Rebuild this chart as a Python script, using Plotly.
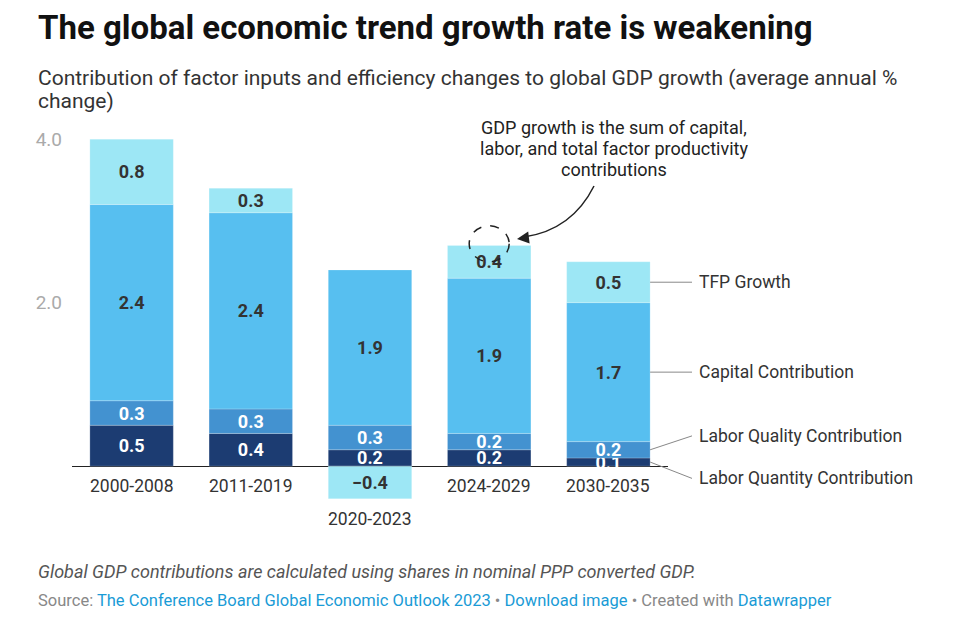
import plotly.graph_objects as go

# ---------------- data ----------------
categories = ["2000-2008", "2011-2019", "2020-2023", "2024-2029", "2030-2035"]
labor_quantity = [0.5, 0.4, 0.2, 0.2, 0.1]
labor_quality = [0.3, 0.3, 0.3, 0.2, 0.2]
capital = [2.4, 2.4, 1.9, 1.9, 1.7]
tfp = [0.8, 0.3, -0.4, 0.4, 0.5]
series_names = ["Labor Quantity Contribution", "Labor Quality Contribution",
                "Capital Contribution", "TFP Growth"]
y_tick_values = [2.0, 4.0]
y_tick_labels = ["2.0", "4.0"]

title = "The global economic trend growth rate is weakening"
subtitle_lines = ["Contribution of factor inputs and efficiency changes to global GDP growth (average annual %",
                  "change)"]
callout_lines = ["GDP growth is the sum of capital,", "labor, and total factor productivity",
                 "contributions"]
note = "Global GDP contributions are calculated using shares in nominal PPP converted GDP."

# ---------------- style ----------------
FONT = "Roboto"
colors = ["#1c3c72", "#4392d0", "#57bff0", "#9de7f5"]
label_colors = ["#ffffff", "#ffffff", "#333333", "#333333"]

PAGE_W, PAGE_H = 954, 627
OFF = 8                      # browser body margin
W, H = PAGE_W - OFF, PAGE_H - OFF
L, R, T, B = 72, 668, 131, 507  # plot area in page pixels
YMIN, YMAX = -0.5, 4.1


def px(xp):
    return (xp - L) / (R - L)


def py(yp):
    return (B - yp) / (B - T)


def ypaper(v):
    return (v - YMIN) / (YMAX - YMIN)


def xpaper(v):
    return (v + 0.5) / 5.0


def fmt(v):
    s = f"{abs(v):.1f}"
    return ("\u2212" + s) if v < 0 else s


series = [labor_quantity, labor_quality, capital, tfp]

fig = go.Figure()
for name, vals, col, tcol in zip(series_names, series, colors, label_colors):
    fig.add_trace(go.Bar(
        x=categories, y=vals, name=name,
        marker=dict(color=col, line=dict(width=0.6, color="rgba(255,255,255,0.35)")),
        text=[fmt(v) for v in vals],
        textposition="inside", insidetextanchor="middle", textangle=0,
        constraintext="none", cliponaxis=False,
        textfont=dict(family=FONT, size=18, color=tcol, weight=700),
        hoverinfo="skip",
    ))

annotations = []

# category labels below bars (below negative part when present)
for i, cat in enumerate(categories):
    neg = sum(min(0, s[i]) for s in series)
    annotations.append(dict(
        x=i, y=neg, xref="x", yref="y", text=cat, showarrow=False,
        yanchor="middle", yshift=-20, font=dict(family=FONT, size=17.5, color="#333333")))

# direct labels for series with leader lines at the last bar
last = len(categories) - 1
base = 0.0
mids = []
for s in series:
    v = s[last]
    mids.append(base + v / 2)
    base += v
label_y = [mids[0] - 0.2, mids[1] + 0.17, mids[2], mids[3]]
bar_edge = xpaper(last + 0.35)
line_end = px(692)
shapes = []
for name, m, ly in zip(series_names, mids, label_y):
    shapes.append(dict(type="line", xref="paper", yref="paper", x0=bar_edge, y0=ypaper(m),
                       x1=line_end, y1=ypaper(ly), line=dict(color="#888888", width=1)))
    annotations.append(dict(
        x=px(697), y=ypaper(ly), xref="paper", yref="paper", text=name, showarrow=False,
        xanchor="left", yanchor="middle", font=dict(family=FONT, size=17.5, color="#333333")))

# dashed circle around total of 2024-2029
ci = 3
total = sum(max(0, s[ci]) for s in series)
rx = 20 / ((R - L) / 5.0)
ry = 18 / ((B - T) / (YMAX - YMIN))
cy = total + 0.02
shapes.append(dict(type="circle", xref="x", yref="y", x0=ci - rx, x1=ci + rx,
                   y0=cy - ry, y1=cy + ry, line=dict(color="#222222", width=1.5, dash="dash")))

# curved arrow from callout
x0, y0 = 594, 186
cx, cyy = 572, 230
x1, y1 = 524, 237
shapes.append(dict(type="path", xref="paper", yref="paper",
                   path=f"M {px(x0)},{py(y0)} Q {px(cx)},{py(cyy)} {px(x1)},{py(y1)}",
                   line=dict(color="#222222", width=1.5)))
annotations.append(dict(x=px(517), y=py(239), xref="paper", yref="paper", text="",
                        showarrow=True, arrowhead=2, arrowsize=1.6, arrowwidth=1.5,
                        arrowcolor="#222222", ax=12, ay=-1.5))
for k, line in enumerate(callout_lines):
    annotations.append(dict(x=px(614), y=py(128 + 20.5 * k), xref="paper", yref="paper", text=line,
                            showarrow=False, xanchor="center", yanchor="middle",
                            font=dict(family=FONT, size=18, color="#222222")))

# title / subtitle / footer
annotations.append(dict(x=px(36), y=py(28), xref="paper", yref="paper", text=title,
                        showarrow=False, xanchor="left", yanchor="middle",
                        font=dict(family=FONT, size=33, color="#111111", weight=700)))
for k, line in enumerate(subtitle_lines):
    annotations.append(dict(x=px(36), y=py(78 + 23 * k), xref="paper", yref="paper", text=line,
                            showarrow=False, xanchor="left", yanchor="middle",
                            font=dict(family=FONT, size=21, color="#333333")))
annotations.append(dict(x=px(36), y=py(571), xref="paper", yref="paper",
                        text=f"<i>{note}</i>", showarrow=False, xanchor="left", yanchor="middle",
                        font=dict(family=FONT, size=18, color="#555555")))
link = "#1a9bd6"
source = (f"Source: <span style='color:{link}'>The Conference Board Global Economic Outlook 2023</span>"
          f" \u2022 <span style='color:{link}'>Download image</span> \u2022 Created with "
          f"<span style='color:{link}'>Datawrapper</span>")
annotations.append(dict(x=px(36), y=py(600), xref="paper", yref="paper", text=source,
                        showarrow=False, xanchor="left", yanchor="middle",
                        font=dict(family=FONT, size=16.5, color="#888888")))

fig.update_layout(
    width=W, height=H,
    margin=dict(l=L - OFF, r=PAGE_W - R, t=T - OFF, b=PAGE_H - B, pad=0),
    paper_bgcolor="white", plot_bgcolor="white",
    barmode="relative", bargap=0.3,
    showlegend=False,
    uniformtext=dict(minsize=18, mode="show"),
    xaxis=dict(range=[-0.5, 4.5], showticklabels=False, showgrid=False, zeroline=False,
               showline=False, ticks="", fixedrange=True),
    yaxis=dict(range=[YMIN, YMAX], tickvals=y_tick_values, ticktext=y_tick_labels,
               showgrid=False, zeroline=True, zerolinecolor="#222222", zerolinewidth=1,
               showline=False, ticks="", ticklabelstandoff=9,
               tickfont=dict(family=FONT, size=19, color="#aaaaaa"), fixedrange=True),
    annotations=annotations,
    shapes=shapes,
    font=dict(family=FONT),
)

fig.write_html("out.html")
